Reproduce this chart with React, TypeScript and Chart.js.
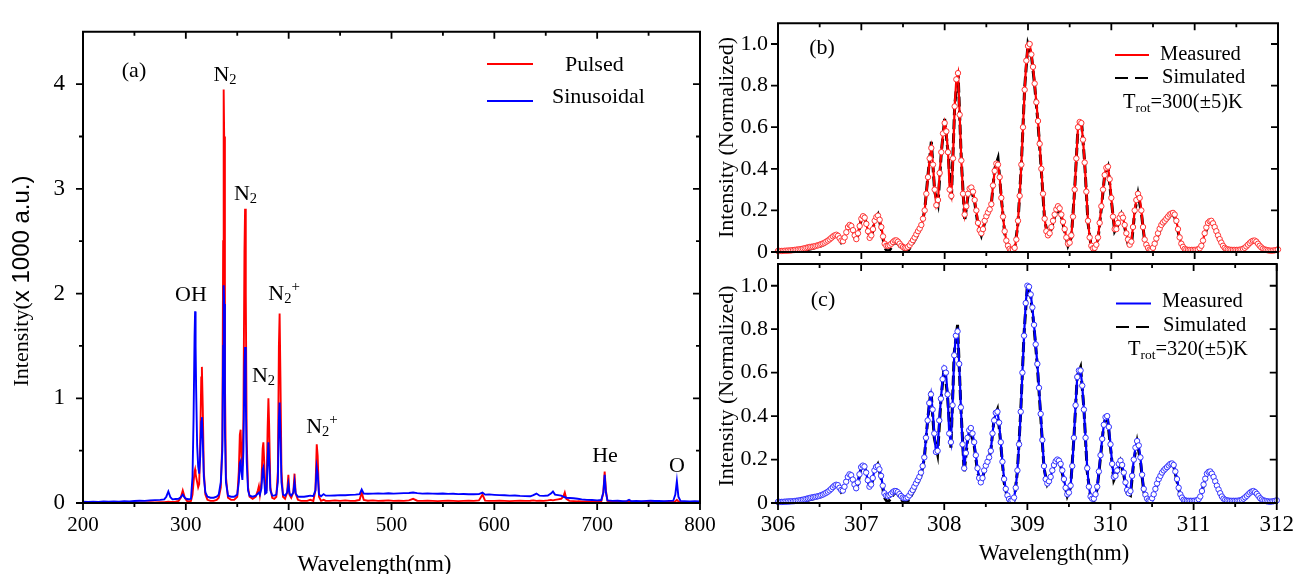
import React, { useEffect, useRef } from 'react';
import { Chart, registerables } from 'chart.js';
Chart.register(...registerables);

const SERIF = '"Liberation Serif", "Times New Roman", serif';
const SANS = '"Liberation Sans", Arial, sans-serif';

// ---------------- Panel (a): emission spectra ----------------
const aWavelength = [
  200, 205, 210, 215, 220, 225, 230, 235, 240, 245, 250, 255, 260, 265, 270, 275,
  279, 281, 283, 285, 287, 290, 293, 295, 297, 299, 301, 303, 305,
  306.5, 307.5, 308.5, 309, 309.5, 310, 311, 312, 313, 314, 315, 315.6, 316.5, 317.5, 319, 321, 324, 327, 330,
  332, 334, 335.5, 336.3, 336.8, 337.3, 338, 339, 341, 344, 347, 350,
  351.5, 352.5, 353.3, 354, 355, 356, 357, 357.6, 358.3, 359.2, 360.5, 362,
  365, 368, 370, 371, 372, 373.5, 374.7, 375.4, 376.2, 377.2, 378.5, 379.5, 380.3, 381, 382.2, 384, 386, 388,
  389.5, 390.5, 391.2, 392, 393, 394.5, 396.5, 398.5, 399.7, 400.8, 402.5, 404.5, 405.7, 406.8, 409,
  412, 415, 418, 421, 424, 426, 427.3, 428.2, 429.5, 431.5, 434, 436,
  440, 445, 450, 455, 460, 465, 469, 471, 473, 477, 482, 487, 492, 497, 502, 507, 512, 517,
  521, 525, 530, 535, 540, 545, 550, 555, 560, 565, 570, 575, 580, 585, 588.5, 591,
  595, 600, 605, 610, 615, 620, 625, 630, 635, 638, 641, 644, 648, 652, 655, 657, 659, 662, 665, 667, 668.5, 670, 673,
  677, 681, 685, 690, 695, 700, 704, 706, 707.3, 708.5, 710,
  715, 720, 725, 729, 731, 733, 738, 743, 748, 752, 756, 760, 765, 770, 774, 776, 777.5, 779, 781, 785, 790, 795, 800,
];
const aPulsed = [
  0.005, 0.004, 0.006, 0.005, 0.004, 0.006, 0.005, 0.004, 0.006, 0.005, 0.006, 0.005, 0.006, 0.007, 0.006, 0.007,
  0.008, 0.010, 0.012, 0.010, 0.009, 0.012, 0.020, 0.050, 0.120, 0.050, 0.020, 0.015, 0.020,
  0.08, 0.20, 0.30, 0.32, 0.28, 0.25, 0.20, 0.15, 0.18, 0.60, 1.20, 1.30, 0.90, 0.30, 0.08, 0.03, 0.02, 0.02, 0.03,
  0.05, 0.15, 0.60, 2.50, 3.95, 3.50, 1.20, 0.25, 0.05, 0.03, 0.03, 0.06,
  0.30, 0.65, 0.70, 0.45, 0.35, 0.80, 2.40, 2.81, 2.00, 0.60, 0.15, 0.06,
  0.04, 0.06, 0.12, 0.16, 0.08, 0.20, 0.52, 0.58, 0.40, 0.10, 0.12, 0.70, 1.00, 0.75, 0.15, 0.05, 0.04, 0.06,
  0.30, 1.50, 1.81, 1.20, 0.30, 0.06, 0.04, 0.10, 0.27, 0.08, 0.05, 0.10, 0.28, 0.09, 0.03,
  0.02, 0.02, 0.02, 0.03, 0.02, 0.12, 0.56, 0.45, 0.06, 0.02, 0.03, 0.02,
  0.02, 0.025, 0.02, 0.025, 0.02, 0.022, 0.03, 0.10, 0.03, 0.022, 0.025, 0.02, 0.022, 0.025, 0.02, 0.022, 0.02, 0.025,
  0.04, 0.022, 0.02, 0.022, 0.02, 0.018, 0.02, 0.022, 0.02, 0.018, 0.02, 0.022, 0.02, 0.025, 0.08, 0.022,
  0.02, 0.02, 0.022, 0.02, 0.018, 0.02, 0.022, 0.02, 0.022, 0.025, 0.02, 0.022, 0.02, 0.025, 0.03, 0.025, 0.03, 0.035, 0.04, 0.06, 0.10, 0.04, 0.02,
  0.018, 0.016, 0.015, 0.014, 0.013, 0.013, 0.015, 0.10, 0.30, 0.12, 0.02,
  0.012, 0.011, 0.012, 0.012, 0.012, 0.012, 0.011, 0.012, 0.011, 0.012, 0.012, 0.011, 0.012, 0.011, 0.012, 0.015, 0.03, 0.015, 0.01, 0.01, 0.01, 0.01, 0.01,
];
const aSinusoidal = [
  0.012, 0.010, 0.013, 0.011, 0.014, 0.012, 0.015, 0.013, 0.017, 0.015, 0.019, 0.022, 0.020, 0.025, 0.027, 0.030,
  0.034, 0.060, 0.110, 0.055, 0.035, 0.038, 0.040, 0.055, 0.080, 0.050, 0.038, 0.036, 0.040,
  0.25, 0.80, 1.60, 1.83, 1.50, 1.10, 0.55, 0.35, 0.28, 0.45, 0.78, 0.82, 0.60, 0.25, 0.10, 0.06, 0.05, 0.05, 0.06,
  0.08, 0.20, 0.50, 1.50, 2.08, 1.90, 0.70, 0.20, 0.07, 0.06, 0.06, 0.08,
  0.20, 0.38, 0.40, 0.30, 0.22, 0.50, 1.30, 1.49, 1.00, 0.40, 0.12, 0.07,
  0.06, 0.07, 0.09, 0.10, 0.08, 0.14, 0.32, 0.34, 0.22, 0.09, 0.10, 0.40, 0.58, 0.42, 0.12, 0.07, 0.07, 0.08,
  0.20, 0.80, 0.96, 0.65, 0.20, 0.08, 0.07, 0.10, 0.18, 0.09, 0.07, 0.10, 0.20, 0.09, 0.06,
  0.06, 0.06, 0.065, 0.07, 0.065, 0.12, 0.34, 0.28, 0.08, 0.065, 0.085, 0.07,
  0.07, 0.072, 0.075, 0.074, 0.078, 0.08, 0.085, 0.13, 0.09, 0.088, 0.09, 0.092, 0.09, 0.093, 0.09, 0.092, 0.094, 0.095,
  0.10, 0.094, 0.09, 0.092, 0.09, 0.088, 0.09, 0.087, 0.088, 0.085, 0.086, 0.083, 0.084, 0.085, 0.10, 0.08,
  0.082, 0.078, 0.075, 0.074, 0.07, 0.072, 0.068, 0.066, 0.064, 0.075, 0.09, 0.07, 0.068, 0.072, 0.09, 0.11, 0.08, 0.075, 0.07, 0.06, 0.055, 0.05, 0.048,
  0.045, 0.04, 0.035, 0.03, 0.028, 0.025, 0.028, 0.10, 0.27, 0.10, 0.025,
  0.02, 0.022, 0.018, 0.02, 0.03, 0.018, 0.02, 0.018, 0.02, 0.022, 0.019, 0.02, 0.018, 0.02, 0.022, 0.08, 0.21, 0.06, 0.02, 0.018, 0.015, 0.016, 0.014,
];
const aXTicks = [200, 300, 400, 500, 600, 700, 800];
const aXMinor = [250, 350, 450, 550, 650, 750];
const aYTicks = [0, 1, 2, 3, 4];
const aYMinor = [0.5, 1.5, 2.5, 3.5];

// ---------------- Panels (b) and (c): OH band, 306-312 nm ----------------
const bcStart = 306;
const measStep = 0.02; // measured spectra sampling (nm)
const simStep = 0.04; // simulated spectra sampling (nm)
const bMeasured = [
  0.005, 0.005, 0.005, 0.005, 0.006, 0.006, 0.007, 0.007, 0.008, 0.009, 0.010, 0.011, 0.012, 0.013, 0.014, 0.016, 0.018, 0.020, 0.022, 0.024,
  0.025, 0.026, 0.028, 0.030, 0.032, 0.035, 0.038, 0.041, 0.045, 0.050, 0.055, 0.061, 0.068, 0.075, 0.080, 0.083, 0.078, 0.066, 0.055, 0.052,
  0.070, 0.095, 0.120, 0.130, 0.125, 0.105, 0.080, 0.062, 0.090, 0.125, 0.160, 0.172, 0.165, 0.135, 0.100, 0.068, 0.080, 0.110, 0.150, 0.168,
  0.175, 0.155, 0.120, 0.075, 0.040, 0.030, 0.030, 0.033, 0.040, 0.048, 0.055, 0.056, 0.050, 0.040, 0.030, 0.024, 0.020, 0.020, 0.025, 0.033,
  0.045, 0.057, 0.070, 0.085, 0.100, 0.113, 0.130, 0.160, 0.200, 0.280, 0.360, 0.450, 0.500, 0.420, 0.300, 0.225, 0.250, 0.380, 0.480, 0.570,
  0.620, 0.580, 0.480, 0.300, 0.270, 0.450, 0.700, 0.830, 0.860, 0.660, 0.440, 0.280, 0.180, 0.220, 0.280, 0.305, 0.310, 0.290, 0.250, 0.200,
  0.140, 0.105, 0.090, 0.110, 0.150, 0.172, 0.190, 0.205, 0.230, 0.320, 0.390, 0.425, 0.420, 0.360, 0.260, 0.170, 0.100, 0.055, 0.030, 0.015,
  0.010, 0.010, 0.020, 0.060, 0.150, 0.270, 0.420, 0.600, 0.780, 0.920, 0.990, 1.000, 0.950, 0.890, 0.810, 0.720, 0.630, 0.520, 0.400, 0.280,
  0.160, 0.100, 0.080, 0.090, 0.120, 0.150, 0.180, 0.205, 0.220, 0.210, 0.180, 0.145, 0.110, 0.070, 0.040, 0.045, 0.080, 0.170, 0.300, 0.450,
  0.600, 0.625, 0.620, 0.540, 0.430, 0.290, 0.150, 0.070, 0.030, 0.018, 0.020, 0.035, 0.070, 0.140, 0.220, 0.300, 0.370, 0.405, 0.410, 0.350,
  0.260, 0.170, 0.110, 0.110, 0.140, 0.165, 0.180, 0.165, 0.130, 0.090, 0.060, 0.035, 0.050, 0.120, 0.200, 0.250, 0.280, 0.260, 0.200, 0.120,
  0.060, 0.035, 0.020, 0.012, 0.010, 0.020, 0.040, 0.065, 0.090, 0.112, 0.130, 0.142, 0.150, 0.160, 0.170, 0.180, 0.185, 0.188, 0.180, 0.150,
  0.110, 0.070, 0.040, 0.025, 0.015, 0.012, 0.010, 0.010, 0.010, 0.010, 0.010, 0.011, 0.012, 0.018, 0.030, 0.055, 0.090, 0.118, 0.140, 0.148,
  0.150, 0.138, 0.120, 0.100, 0.080, 0.062, 0.045, 0.030, 0.020, 0.015, 0.012, 0.011, 0.010, 0.010, 0.010, 0.010, 0.010, 0.011, 0.012, 0.015,
  0.020, 0.027, 0.035, 0.043, 0.050, 0.054, 0.055, 0.050, 0.040, 0.030, 0.022, 0.016, 0.012, 0.010, 0.008, 0.007, 0.006, 0.007, 0.008, 0.010,
  0.012,
];
const bSimulated = [
  0.000, 0.000, 0.000, 0.002, 0.003, 0.004, 0.005, 0.006, 0.008, 0.012,
  0.016, 0.020, 0.025, 0.030, 0.038, 0.050, 0.065, 0.080, 0.075, 0.045,
  0.060, 0.115, 0.120, 0.070, 0.080, 0.160, 0.170, 0.095, 0.065, 0.150,
  0.180, 0.110, 0.020, 0.000, 0.020, 0.045, 0.040, 0.015, 0.000, 0.005,
  0.030, 0.055, 0.085, 0.120, 0.200, 0.370, 0.530, 0.290, 0.230, 0.480,
  0.640, 0.480, 0.250, 0.700, 0.870, 0.440, 0.150, 0.270, 0.300, 0.240,
  0.130, 0.080, 0.140, 0.180, 0.230, 0.400, 0.450, 0.260, 0.090, 0.020,
  0.000, 0.010, 0.140, 0.420, 0.790, 1.000, 0.950, 0.800, 0.620, 0.390,
  0.150, 0.080, 0.110, 0.170, 0.210, 0.170, 0.100, 0.030, 0.070, 0.300,
  0.600, 0.640, 0.430, 0.140, 0.020, 0.010, 0.060, 0.210, 0.370, 0.410,
  0.250, 0.100, 0.130, 0.180, 0.120, 0.040, 0.030, 0.190, 0.280, 0.190,
  0.050, 0.010, 0.000, 0.030, 0.080, 0.120, 0.140, 0.160, 0.180, 0.170,
  0.100, 0.030, 0.005, 0.000, 0.000, 0.000, 0.002, 0.020, 0.080, 0.130,
  0.145, 0.115, 0.070, 0.035, 0.012, 0.004, 0.002, 0.000, 0.000, 0.003,
  0.012, 0.028, 0.045, 0.055, 0.040, 0.018, 0.006, 0.002, 0.000, 0.000,
  0.002,
];
const cMeasured = [
  0.005, 0.005, 0.005, 0.005, 0.006, 0.006, 0.007, 0.007, 0.008, 0.008, 0.009, 0.010, 0.011, 0.012, 0.014, 0.015, 0.017, 0.019, 0.021, 0.023,
  0.025, 0.026, 0.028, 0.029, 0.031, 0.033, 0.036, 0.039, 0.043, 0.047, 0.052, 0.058, 0.065, 0.073, 0.080, 0.084, 0.082, 0.070, 0.060, 0.057,
  0.075, 0.098, 0.120, 0.132, 0.128, 0.108, 0.085, 0.068, 0.095, 0.132, 0.165, 0.172, 0.168, 0.140, 0.105, 0.075, 0.085, 0.115, 0.150, 0.166,
  0.170, 0.155, 0.125, 0.080, 0.045, 0.034, 0.032, 0.036, 0.042, 0.050, 0.055, 0.055, 0.050, 0.041, 0.032, 0.025, 0.022, 0.022, 0.026, 0.035,
  0.048, 0.060, 0.075, 0.090, 0.105, 0.120, 0.140, 0.170, 0.210, 0.300, 0.380, 0.460, 0.500, 0.430, 0.320, 0.235, 0.240, 0.380, 0.480, 0.570,
  0.620, 0.600, 0.500, 0.320, 0.280, 0.450, 0.680, 0.770, 0.790, 0.640, 0.440, 0.270, 0.160, 0.230, 0.300, 0.335, 0.345, 0.320, 0.280, 0.220,
  0.160, 0.115, 0.095, 0.115, 0.150, 0.172, 0.190, 0.210, 0.240, 0.320, 0.380, 0.415, 0.420, 0.370, 0.280, 0.190, 0.110, 0.065, 0.035, 0.018,
  0.010, 0.012, 0.025, 0.070, 0.150, 0.270, 0.420, 0.600, 0.770, 0.920, 1.000, 0.995, 0.960, 0.900, 0.820, 0.730, 0.640, 0.530, 0.410, 0.290,
  0.170, 0.110, 0.090, 0.100, 0.120, 0.150, 0.175, 0.192, 0.200, 0.195, 0.180, 0.150, 0.110, 0.070, 0.040, 0.048, 0.080, 0.170, 0.300, 0.450,
  0.580, 0.610, 0.610, 0.540, 0.430, 0.300, 0.160, 0.075, 0.030, 0.020, 0.020, 0.040, 0.075, 0.145, 0.220, 0.295, 0.360, 0.395, 0.400, 0.350,
  0.270, 0.180, 0.120, 0.125, 0.150, 0.180, 0.195, 0.175, 0.140, 0.095, 0.060, 0.045, 0.055, 0.125, 0.200, 0.255, 0.285, 0.265, 0.210, 0.130,
  0.065, 0.038, 0.020, 0.012, 0.010, 0.022, 0.040, 0.065, 0.090, 0.110, 0.125, 0.140, 0.150, 0.158, 0.165, 0.173, 0.180, 0.182, 0.175, 0.145,
  0.110, 0.070, 0.040, 0.025, 0.015, 0.012, 0.010, 0.010, 0.010, 0.010, 0.010, 0.011, 0.012, 0.018, 0.030, 0.055, 0.085, 0.112, 0.135, 0.143,
  0.145, 0.135, 0.120, 0.100, 0.080, 0.062, 0.045, 0.030, 0.020, 0.015, 0.012, 0.011, 0.010, 0.010, 0.010, 0.010, 0.010, 0.011, 0.012, 0.015,
  0.020, 0.026, 0.033, 0.041, 0.048, 0.053, 0.055, 0.050, 0.042, 0.032, 0.022, 0.016, 0.012, 0.010, 0.008, 0.007, 0.006, 0.007, 0.008, 0.010,
  0.012,
];
const cSimulated = [
  0.000, 0.000, 0.000, 0.002, 0.003, 0.004, 0.005, 0.007, 0.009, 0.013,
  0.017, 0.021, 0.026, 0.031, 0.039, 0.050, 0.064, 0.078, 0.078, 0.050,
  0.065, 0.118, 0.125, 0.075, 0.085, 0.165, 0.172, 0.100, 0.070, 0.150,
  0.178, 0.115, 0.025, 0.002, 0.022, 0.046, 0.042, 0.016, 0.001, 0.006,
  0.032, 0.060, 0.090, 0.125, 0.205, 0.380, 0.520, 0.300, 0.225, 0.475,
  0.630, 0.490, 0.255, 0.690, 0.820, 0.440, 0.140, 0.290, 0.330, 0.265,
  0.145, 0.085, 0.145, 0.185, 0.240, 0.390, 0.430, 0.270, 0.095, 0.022,
  0.001, 0.012, 0.145, 0.420, 0.780, 1.000, 0.955, 0.810, 0.630, 0.400,
  0.160, 0.085, 0.112, 0.170, 0.200, 0.172, 0.102, 0.032, 0.072, 0.300,
  0.585, 0.625, 0.435, 0.145, 0.022, 0.010, 0.065, 0.212, 0.365, 0.405,
  0.255, 0.105, 0.140, 0.190, 0.128, 0.045, 0.035, 0.192, 0.282, 0.195,
  0.052, 0.010, 0.001, 0.032, 0.082, 0.120, 0.142, 0.160, 0.178, 0.170,
  0.100, 0.030, 0.005, 0.001, 0.000, 0.000, 0.002, 0.022, 0.082, 0.130,
  0.142, 0.115, 0.072, 0.036, 0.013, 0.004, 0.002, 0.000, 0.000, 0.003,
  0.012, 0.028, 0.045, 0.054, 0.040, 0.018, 0.006, 0.002, 0.000, 0.000,
  0.002,
];
const bcXTicks = [306, 307, 308, 309, 310, 311, 312];
const bcXMinor = [306.5, 307.5, 308.5, 309.5, 310.5, 311.5];
const bcYTicks = [0, 0.2, 0.4, 0.6, 0.8, 1.0];

// ---------------- text helpers ----------------
type Part = { t: string; size: number; font?: string; dy?: number };

function drawRich(ctx: CanvasRenderingContext2D, parts: Part[], x: number, y: number, align: 'left' | 'center', rot = 0) {
  ctx.save();
  ctx.translate(x, y);
  if (rot) ctx.rotate(rot);
  ctx.textBaseline = 'middle';
  ctx.textAlign = 'left';
  ctx.fillStyle = '#000';
  let w = 0;
  for (const p of parts) {
    ctx.font = `${p.size}px ${p.font || SERIF}`;
    w += ctx.measureText(p.t).width;
  }
  let cx = align === 'center' ? -w / 2 : 0;
  for (const p of parts) {
    ctx.font = `${p.size}px ${p.font || SERIF}`;
    ctx.fillText(p.t, cx, p.dy || 0);
    cx += ctx.measureText(p.t).width;
  }
  ctx.restore();
}

function drawLegendLine(ctx: CanvasRenderingContext2D, x1: number, x2: number, y: number, color: string, width: number, dash: number[] = []) {
  ctx.save();
  ctx.strokeStyle = color;
  ctx.lineWidth = width;
  ctx.setLineDash(dash);
  ctx.beginPath();
  ctx.moveTo(x1, y);
  ctx.lineTo(x2, y);
  ctx.stroke();
  ctx.restore();
}

const N2: Part[] = [{ t: 'N', size: 22 }, { t: '2', size: 14.5, dy: 5 }];
const N2P: Part[] = [{ t: 'N', size: 22 }, { t: '2', size: 14.5, dy: 5 }, { t: '+', size: 15, dy: -8 }];
const aLabels: { w: number; v: number; parts: Part[] }[] = [
  { w: 249.6, v: 4.12, parts: [{ t: '(a)', size: 22 }] },
  { w: 338.1, v: 4.085, parts: N2 },
  { w: 358, v: 2.95, parts: N2 },
  { w: 305, v: 1.98, parts: [{ t: 'OH', size: 22 }] },
  { w: 395.5, v: 1.99, parts: N2P },
  { w: 375.5, v: 1.21, parts: N2 },
  { w: 432.4, v: 0.72, parts: N2P },
  { w: 707.6, v: 0.443, parts: [{ t: 'He', size: 22 }] },
  { w: 777.6, v: 0.35, parts: [{ t: 'O', size: 22 }] },
];

function framePlugin(o: { xMajor: number[]; xMinor: number[]; yMajor: number[]; yMinor: number[] }) {
  return {
    id: 'frame',
    afterDatasetsDraw(chart: any) {
      const { ctx, chartArea: ca, scales } = chart;
      const xs = scales.x, ys = scales.y;
      const MAJ = 7, MIN = 4;
      ctx.save();
      ctx.strokeStyle = '#000';
      ctx.lineWidth = 2;
      ctx.beginPath();
      ctx.rect(ca.left, ca.top, ca.right - ca.left, ca.bottom - ca.top);
      ctx.stroke();
      ctx.lineWidth = 1.8;
      ctx.beginPath();
      const xt = (v: number, len: number) => {
        const p = xs.getPixelForValue(v);
        ctx.moveTo(p, ca.bottom); ctx.lineTo(p, ca.bottom + len);
        ctx.moveTo(p, ca.top); ctx.lineTo(p, ca.top + len);
      };
      const yt = (v: number, len: number) => {
        const p = ys.getPixelForValue(v);
        ctx.moveTo(ca.left, p); ctx.lineTo(ca.left - len, p);
        ctx.moveTo(ca.right, p); ctx.lineTo(ca.right - len, p);
      };
      o.xMajor.forEach((v) => xt(v, MAJ));
      o.xMinor.forEach((v) => xt(v, MIN));
      o.yMajor.forEach((v) => yt(v, MAJ));
      o.yMinor.forEach((v) => yt(v, MIN));
      ctx.stroke();
      ctx.restore();
    },
  };
}

function configA(): any {
  return {
    type: 'line',
    data: {
      datasets: [
        {
          label: 'Sinusoidal',
          data: aWavelength.map((x, i) => ({ x, y: aSinusoidal[i] })),
          borderColor: '#0000ff', borderWidth: 1.9, pointRadius: 0, tension: 0, fill: false,
        },
        {
          label: 'Pulsed',
          data: aWavelength.map((x, i) => ({ x, y: aPulsed[i] })),
          borderColor: '#ff0000', borderWidth: 1.9, pointRadius: 0, tension: 0, fill: false,
        },
      ],
    },
    options: {
      responsive: false, animation: false, events: [], devicePixelRatio: 1,
      layout: { padding: { left: 0, top: 15, right: 602, bottom: 0 } },
      plugins: { legend: { display: false }, tooltip: { enabled: false } },
      scales: {
        x: {
          type: 'linear', min: 200, max: 800,
          afterBuildTicks: (s: any) => { s.ticks = aXTicks.map((value) => ({ value })); },
          afterFit: (s: any) => { s.height = 71; },
          grid: { display: false, drawTicks: false }, border: { display: false },
          ticks: { color: '#000', font: { family: SERIF, size: 21 }, padding: 10, maxRotation: 0, autoSkip: false },
        },
        y: {
          type: 'linear', min: 0, max: 4.5,
          afterBuildTicks: (s: any) => { s.ticks = aYTicks.map((value) => ({ value })); },
          afterFit: (s: any) => { s.width = 83; },
          grid: { display: false, drawTicks: false }, border: { display: false },
          ticks: { color: '#000', font: { family: SERIF, size: 23 }, padding: 18, autoSkip: false },
        },
      },
    },
    plugins: [
      framePlugin({ xMajor: aXTicks, xMinor: aXMinor, yMajor: aYTicks, yMinor: aYMinor }),
      {
        id: 'textA',
        afterDraw(chart: any) {
          const { ctx, scales } = chart;
          for (const l of aLabels) {
            drawRich(ctx, l.parts, scales.x.getPixelForValue(l.w), scales.y.getPixelForValue(l.v), 'center');
          }
          drawLegendLine(ctx, 487, 533, 64, '#ff0000', 2);
          drawRich(ctx, [{ t: 'Pulsed', size: 22 }], 565, 65, 'left');
          drawLegendLine(ctx, 487, 533, 101, '#0000ff', 2);
          drawRich(ctx, [{ t: 'Sinusoidal', size: 22 }], 552, 97.5, 'left');
          drawRich(ctx, [{ t: 'Wavelength(nm)', size: 23 }], 374.5, 565, 'center');
          drawRich(ctx, [{ t: 'Intensity(', size: 22 }, { t: 'x 1000 a.u.)', size: 24, font: SANS }], 22, 281, 'center', -Math.PI / 2);
        },
      },
    ],
  };
}

function configBC(which: 'b' | 'c'): any {
  const isB = which === 'b';
  const measured = isB ? bMeasured : cMeasured;
  const simulated = isB ? bSimulated : cSimulated;
  const color = isB ? '#ff0000' : '#0000ff';
  const marker = isB ? '#ff3333' : '#3333ff';
  const measWl = measured.map((_, i) => +(bcStart + i * measStep).toFixed(2));
  const simWl = simulated.map((_, i) => +(bcStart + i * simStep).toFixed(2));
  return {
    type: 'line',
    data: {
      datasets: [
        {
          label: 'Measured',
          data: measWl.map((x, i) => ({ x, y: measured[i] })),
          borderColor: color, borderWidth: 2.2, tension: 0, fill: false,
          pointRadius: 2.7, pointBorderWidth: 1, pointBackgroundColor: '#ffffff', pointBorderColor: marker,
          clip: 5,
        },
        {
          label: 'Simulated',
          data: simWl.map((x, i) => ({ x, y: simulated[i] })),
          borderColor: '#000000', borderWidth: 3, borderDash: [10, 4], tension: 0, fill: false, pointRadius: 0,
        },
      ],
    },
    options: {
      responsive: false, animation: false, events: [], devicePixelRatio: 1,
      layout: { padding: isB ? { left: 718, top: 13, right: 24, bottom: 300 } : { left: 718, top: 264, right: 24, bottom: 0 } },
      plugins: { legend: { display: false }, tooltip: { enabled: false } },
      scales: {
        x: {
          type: 'linear', min: 306, max: 312,
          afterBuildTicks: (s: any) => { s.ticks = bcXTicks.map((value) => ({ value })); },
          afterFit: (s: any) => { s.height = isB ? 22 : 71; },
          grid: { display: false, drawTicks: false }, border: { display: false },
          ticks: { display: !isB, color: '#000', font: { family: SERIF, size: 23 }, padding: 8, maxRotation: 0, autoSkip: false },
        },
        y: {
          type: 'linear', min: 0, max: 1.1,
          afterBuildTicks: (s: any) => { s.ticks = bcYTicks.map((value) => ({ value })); },
          afterFit: (s: any) => { s.width = 60; },
          grid: { display: false, drawTicks: false }, border: { display: false },
          ticks: {
            color: '#000', font: { family: SERIF, size: 22 }, padding: 10, autoSkip: false,
            callback: (v: any) => (Number(v) === 0 ? '0' : Number(v).toFixed(1)),
          },
        },
      },
    },
    plugins: [
      framePlugin({ xMajor: bcXTicks, xMinor: bcXMinor, yMajor: bcYTicks, yMinor: [] }),
      {
        id: 'textBC',
        afterDraw(chart: any) {
          const ctx = chart.ctx;
          const o = isB ? 0 : 1;
          const panel = isB ? '(b)' : '(c)';
          const temp = isB ? '=300(\u00b15)K' : '=320(\u00b15)K';
          drawRich(ctx, [{ t: panel, size: 22 }], isB ? 822 : 823, isB ? 48 : 300, 'center');
          const yM = isB ? 54.5 : 302, yS = isB ? 77.5 : 326, yT = isB ? 103 : 350;
          drawLegendLine(ctx, isB ? 1115 : 1116, isB ? 1149 : 1151, yM + 0.5 + o, color, 2);
          drawRich(ctx, [{ t: 'Measured', size: 20.5 }], isB ? 1160 : 1162, yM, 'left');
          drawLegendLine(ctx, isB ? 1115 : 1116, isB ? 1149 : 1151, yS + 0.5 + o * 0.5, '#000000', 2, [13, 7]);
          drawRich(ctx, [{ t: 'Simulated', size: 20.5 }], isB ? 1162 : 1163, yS, 'left');
          drawRich(ctx, [{ t: 'T', size: 20.5 }, { t: 'rot', size: 13.5, dy: 5 }, { t: temp, size: 20.5 }], isB ? 1123 : 1128, yT, 'left');
          drawRich(ctx, [{ t: 'Intensity (Normalized)', size: 22 }], 727, isB ? 137.5 : 386, 'center', -Math.PI / 2);
          if (!isB) drawRich(ctx, [{ t: 'Wavelength(nm)', size: 22.5 }], 1054, 554, 'center');
        },
      },
    ],
  };
}

export default function App() {
  const aRef = useRef<HTMLCanvasElement>(null);
  const bRef = useRef<HTMLCanvasElement>(null);
  const cRef = useRef<HTMLCanvasElement>(null);
  useEffect(() => {
    const charts = [
      new Chart(aRef.current as HTMLCanvasElement, configA()),
      new Chart(bRef.current as HTMLCanvasElement, configBC('b')),
      new Chart(cRef.current as HTMLCanvasElement, configBC('c')),
    ];
    return () => charts.forEach((c) => c.destroy());
  }, []);
  const cs: React.CSSProperties = { position: 'absolute', left: 0, top: 0, width: 1302, height: 574 };
  return (
    <div style={{ position: 'absolute', left: 0, top: 0, width: 1302, height: 574, background: '#ffffff', overflow: 'hidden' }}>
      <canvas ref={aRef} width={1302} height={574} style={cs} />
      <canvas ref={bRef} width={1302} height={574} style={cs} />
      <canvas ref={cRef} width={1302} height={574} style={cs} />
    </div>
  );
}
